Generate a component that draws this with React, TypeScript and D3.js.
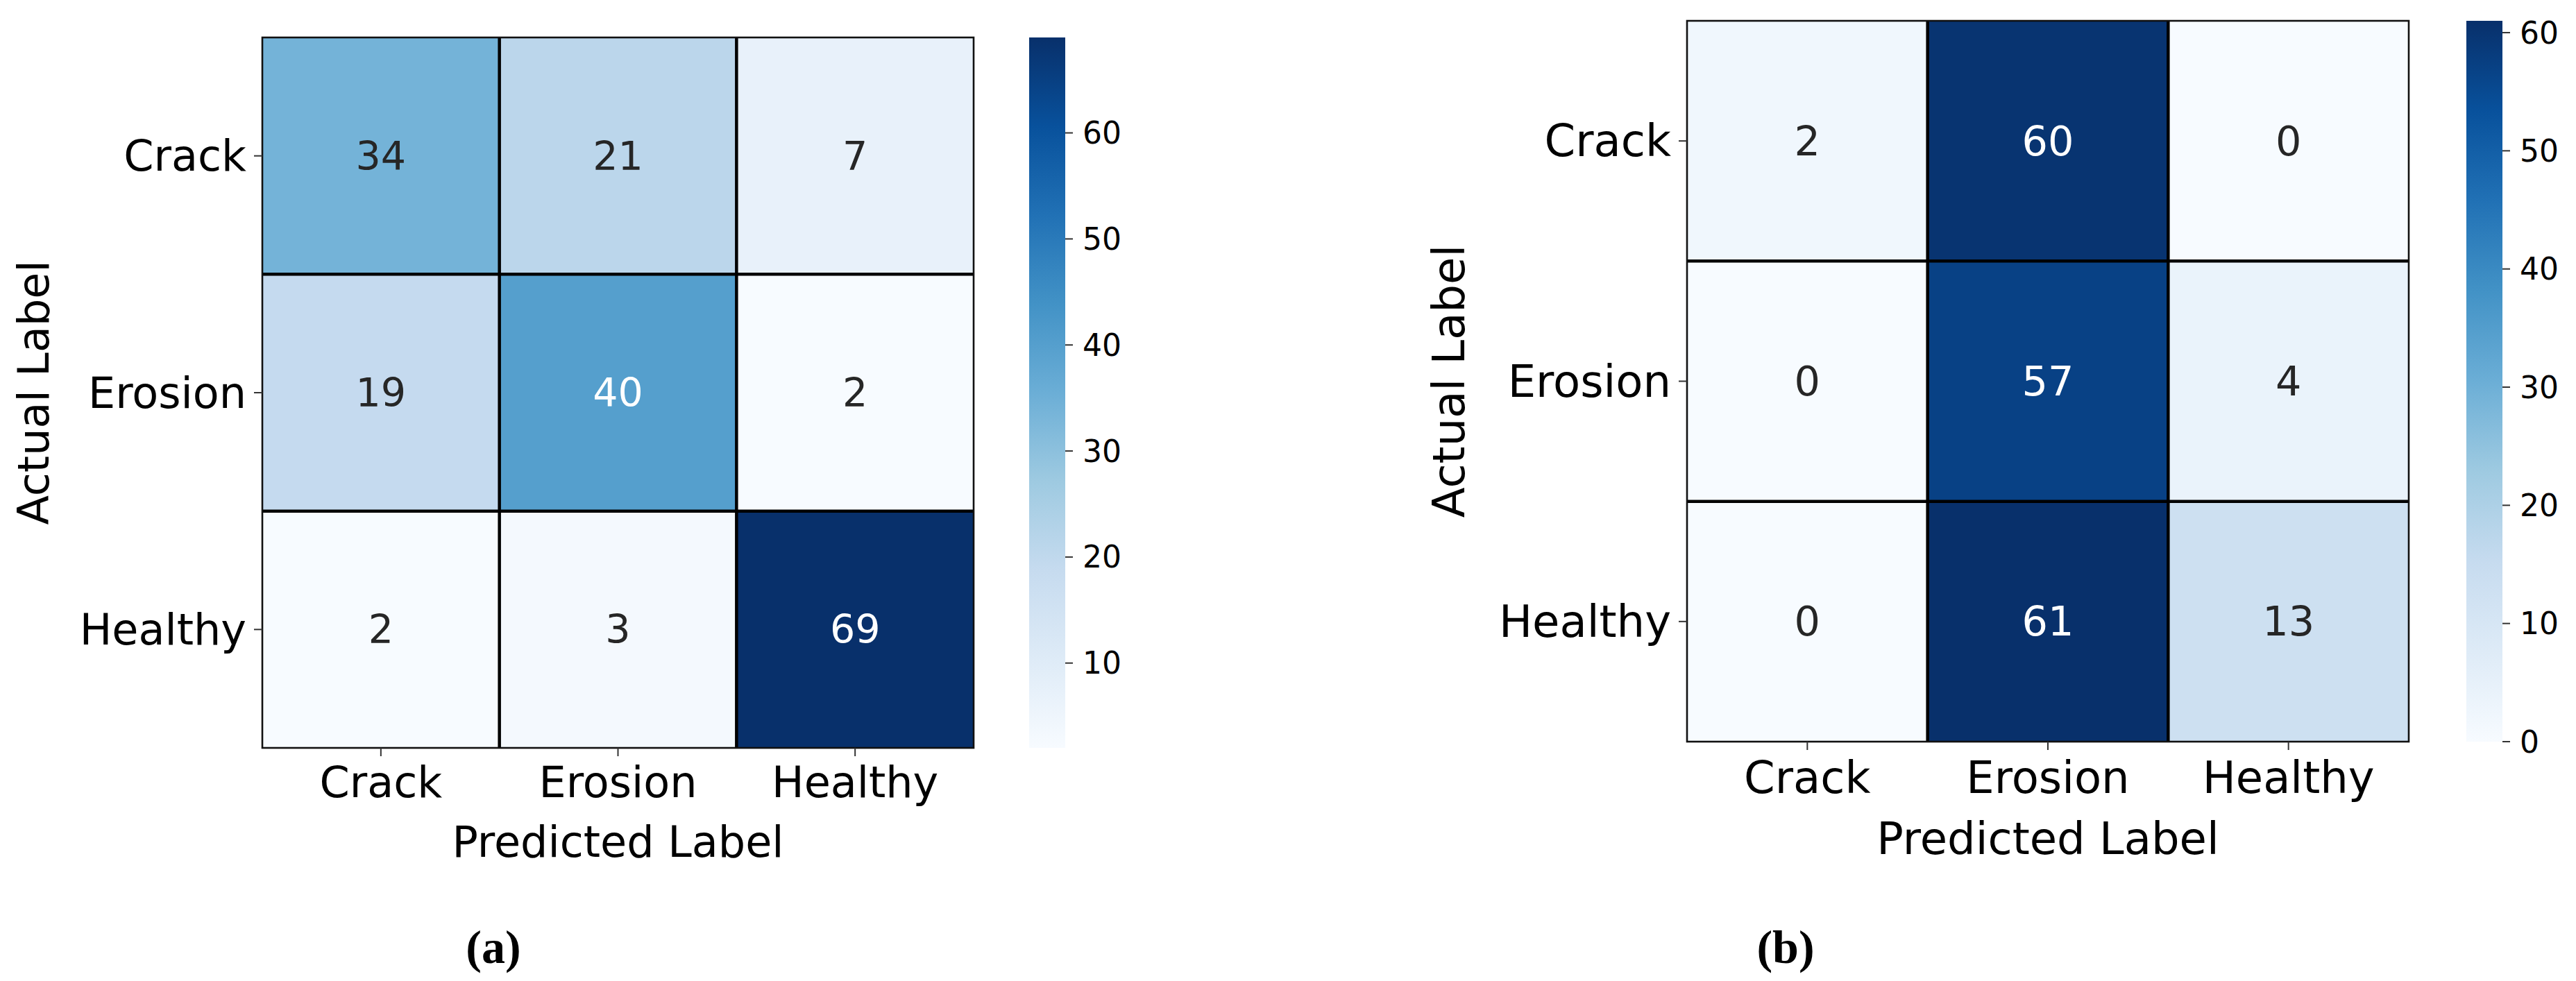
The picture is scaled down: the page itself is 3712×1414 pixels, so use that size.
import React from 'react'
import * as d3 from 'd3'

const labels = ['Crack', 'Erosion', 'Healthy']
const matrixA = [
  [34, 21, 7],
  [19, 40, 2],
  [2, 3, 69],
]
const matrixB = [
  [2, 60, 0],
  [0, 57, 4],
  [0, 61, 13],
]
const captions = ['(a)', '(b)']

const FONT = '"DejaVu Sans", sans-serif'

// seaborn-like text colour pick on cell luminance
const luminance = (c: string) => {
  const rgb = d3.rgb(c)
  const lin = (v: number) => {
    v = v / 255
    return v <= 0.03928 ? v / 12.92 : Math.pow((v + 0.055) / 1.055, 2.4)
  }
  return 0.2126 * lin(rgb.r) + 0.7152 * lin(rgb.g) + 0.0722 * lin(rgb.b)
}

type PanelProps = {
  id: string
  data: number[][]
  x0: number
  x1: number
  y0: number
  y1: number
  cbX: number
  cbW: number
  fs: number
  yLabelX: number
  xTickY: number
  xLabelY: number
}

const Panel = ({ id, data, x0, x1, y0, y1, cbX, cbW, fs, yLabelX, xTickY, xLabelY }: PanelProps) => {
  const flat = data.flat()
  const lo = d3.min(flat) as number
  const hi = d3.max(flat) as number

  const xs = d3.scaleBand().domain(labels).range([x0, x1]).padding(0)
  const ys = d3.scaleBand().domain(labels).range([y0, y1]).padding(0)

  // matplotlib Blues = linear segments through the 9 brewer colours
  const blues = d3.schemeBlues[9] as readonly string[]
  const color = d3
    .scaleLinear<string>()
    .domain(d3.range(9).map(i => lo + (i * (hi - lo)) / 8))
    .range(blues as string[])
    .clamp(true)

  const cb = d3.scaleLinear().domain([lo, hi]).range([y1, y0])
  const cbTicks = cb.ticks(7).filter(t => t >= lo && t <= hi)

  const bw = xs.bandwidth()
  const bh = ys.bandwidth()

  return (
    <g>
      <defs>
        <linearGradient id={`grad-${id}`} x1="0" y1="1" x2="0" y2="0">
          {blues.map((c, i) => (
            <stop key={i} offset={i / 8} stopColor={c} />
          ))}
        </linearGradient>
      </defs>

      {data.map((row, r) =>
        row.map((v, c) => {
          const fill = color(v)
          return (
            <g key={`${r}-${c}`}>
              <rect x={xs(labels[c])} y={ys(labels[r])} width={bw} height={bh} fill={fill} />
              <text
                x={(xs(labels[c]) as number) + bw / 2}
                y={(ys(labels[r]) as number) + bh / 2}
                textAnchor="middle"
                dominantBaseline="central"
                fontFamily={FONT}
                fontSize={fs * 0.92}
                fill={luminance(fill) > 0.4 ? '#262626' : '#ffffff'}
              >
                {v}
              </text>
            </g>
          )
        })
      )}

      {/* inner grid lines */}
      {labels.slice(1).map(l => (
        <g key={`grid-${l}`}>
          <line x1={xs(l)} x2={xs(l)} y1={y0} y2={y1} stroke="#000" strokeWidth={4.5} />
          <line x1={x0} x2={x1} y1={ys(l)} y2={ys(l)} stroke="#000" strokeWidth={4.5} />
        </g>
      ))}
      <rect x={x0} y={y0} width={x1 - x0} height={y1 - y0} fill="none" stroke="#111" strokeWidth={2.6} />

      {/* y ticks */}
      {labels.map(l => {
        const cy = (ys(l) as number) + bh / 2
        return (
          <g key={`yt-${l}`}>
            <line x1={x0 - 12} x2={x0} y1={cy} y2={cy} stroke="#333" strokeWidth={2} />
            <text x={x0 - 23} y={cy} textAnchor="end" dominantBaseline="central" fontFamily={FONT} fontSize={fs} fill="#000">
              {l}
            </text>
          </g>
        )
      })}

      {/* x ticks */}
      {labels.map(l => {
        const cx = (xs(l) as number) + bw / 2
        return (
          <g key={`xt-${l}`}>
            <line x1={cx} x2={cx} y1={y1} y2={y1 + 12} stroke="#333" strokeWidth={2} />
            <text x={cx} y={xTickY} textAnchor="middle" fontFamily={FONT} fontSize={fs} fill="#000">
              {l}
            </text>
          </g>
        )
      })}

      <text x={(x0 + x1) / 2} y={xLabelY} textAnchor="middle" fontFamily={FONT} fontSize={fs} fill="#000">
        Predicted Label
      </text>
      <text
        transform={`translate(${yLabelX},${(y0 + y1) / 2}) rotate(-90)`}
        textAnchor="middle"
        fontFamily={FONT}
        fontSize={fs}
        fill="#000"
      >
        Actual Label
      </text>

      {/* colorbar */}
      <rect x={cbX} y={y0} width={cbW} height={y1 - y0} fill={`url(#grad-${id})`} />
      {cbTicks.map(t => (
        <g key={`cb-${t}`}>
          <line x1={cbX + cbW} x2={cbX + cbW + 11} y1={cb(t)} y2={cb(t)} stroke="#333" strokeWidth={2} />
          <text x={cbX + cbW + 25} y={cb(t)} dominantBaseline="central" fontFamily={FONT} fontSize={44} fill="#000">
            {t}
          </text>
        </g>
      ))}
    </g>
  )
}

const App = () => {
  return (
    <div style={{ position: 'absolute', left: 0, top: 0 }}>
      <svg width={3712} height={1414} style={{ display: 'block', background: '#fff' }}>
        <Panel
          id="a"
          data={matrixA}
          x0={378}
          x1={1403}
          y0={54}
          y1={1078}
          cbX={1483}
          cbW={52}
          fs={62}
          yLabelX={70}
          xTickY={1149}
          xLabelY={1235}
        />
        <Panel
          id="b"
          data={matrixB}
          x0={2431}
          x1={3471}
          y0={30}
          y1={1069}
          cbX={3554}
          cbW={52}
          fs={64}
          yLabelX={2110}
          xTickY={1143}
          xLabelY={1231}
        />
        <text x={711} y={1388} textAnchor="middle" fontFamily='"Liberation Serif", serif' fontWeight="bold" fontSize={68}>
          {captions[0]}
        </text>
        <text x={2573} y={1388} textAnchor="middle" fontFamily='"Liberation Serif", serif' fontWeight="bold" fontSize={68}>
          {captions[1]}
        </text>
      </svg>
    </div>
  )
}

export default App
